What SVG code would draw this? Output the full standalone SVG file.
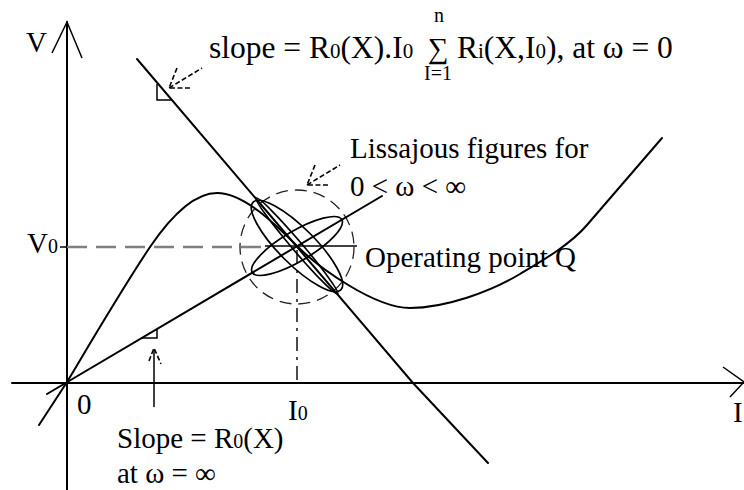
<svg xmlns="http://www.w3.org/2000/svg" width="744" height="490" viewBox="0 0 744 490">
<style>
.t{font-family:"Liberation Serif","Times New Roman",serif;font-size:29px;fill:#000}
.s{font-size:20px}
.f{font-size:31.5px}
.fs{font-size:21px}
.ln{fill:none;stroke:#000;stroke-width:2;stroke-linecap:round}
.th{fill:none;stroke:#000;stroke-width:1.5}
.ds{fill:none;stroke:#000;stroke-width:1.6;stroke-dasharray:5 2.5}
.lj{fill:none;stroke:#000;stroke-width:1.7}
</style>
<rect width="744" height="490" fill="#fff"/>
<g id="axes">
<line x1="67" y1="22" x2="67" y2="490" class="ln"/>
<polyline points="52,53 67,22 82,58" class="th"/>
<line x1="12" y1="383" x2="744" y2="383" class="ln"/>
<polyline points="723,367 744,382 730,397" class="th"/>
<line x1="60" y1="247" x2="67" y2="247" class="th"/>
</g>
<g id="guides">
<line x1="67" y1="247" x2="265" y2="247" fill="none" stroke="#808080" stroke-width="2.5" stroke-dasharray="20 9"/>
<line x1="297" y1="250" x2="297" y2="383" fill="none" stroke="#000" stroke-width="1.4" stroke-dasharray="14 6 3 6"/>
<circle cx="297" cy="247" r="57" fill="none" stroke="#222" stroke-width="1.3" stroke-dasharray="12 7"/>
</g>
<g id="characteristic">
<path class="ln" stroke-width="2.4" d="M39,425 L67,382 C85,352 120,292 150,247 C165,225 190,193 217,193 C244,193 275,224 297,246 C319,268 375,308 410,308 C445,308 490,292 520,274 C540,262 570,245 587,225 C604,205 645,158 662,138"/>
</g>
<g id="load-line">
<polyline class="ln" points="137,59 413,383 488,463"/>
<polyline class="th" points="157,84 157,100 171,100"/>
</g>
<g id="r0-line">
<line class="ln" x1="47" y1="394" x2="382" y2="196"/>
<polyline class="th" points="142,338 157,338 157,329"/>
</g>
<g id="lissajous">
<ellipse class="lj" cx="297" cy="246" rx="63" ry="5" transform="rotate(49.6 297 246)" stroke-width="2.6"/>
<ellipse class="lj" cx="297" cy="246" rx="62" ry="18" transform="rotate(45 297 246)"/>
<ellipse class="lj" cx="297" cy="246" rx="52" ry="15" transform="rotate(-30.6 297 246)"/>
<line class="lj" x1="265" y1="246" x2="357" y2="246"/>
</g>
<g id="connectors">
<line class="ds" x1="169" y1="88" x2="202" y2="68"/>
<polyline class="ds" points="177,68 169,88 192,88"/>
<line class="ds" x1="307" y1="185" x2="340" y2="165"/>
<polyline class="ds" points="315,165 307,185 330,185"/>
<line class="th" x1="154" y1="407" x2="154" y2="350"/>
<polyline class="ds" points="149,361 154,348 161,364"/>
</g>
<g id="labels">
<text class="t" x="26" y="52">V</text>
<text class="t" x="27" y="253">V<tspan class="s">0</tspan></text>
<text class="t" x="77" y="414">0</text>
<text class="t" x="288" y="420">I<tspan class="s">0</tspan></text>
<text class="t" x="733" y="422">I</text>
<text class="t" x="365" y="267">Operating point Q</text>
<text class="t" x="350" y="158">Lissajous figures for</text>
<text class="t" x="350" y="196">0 &lt; ω &lt; ∞</text>
<text class="t" x="117" y="448">Slope = R<tspan class="s">0</tspan>(X)</text>
<text class="t" x="117" y="483">at ω = ∞</text>
<text class="t f" x="209" y="58">slope = R<tspan class="fs">0</tspan>(X).I<tspan class="fs">0</tspan></text>
<text class="t" x="428" y="58" font-size="27">∑</text>
<text class="t s" x="434" y="22">n</text>
<text class="t s" x="424" y="80">I=1</text>
<text class="t f" x="457" y="58">R<tspan class="fs">i</tspan>(X,I<tspan class="fs">0</tspan>), at ω = 0</text>
</g>
</svg>
